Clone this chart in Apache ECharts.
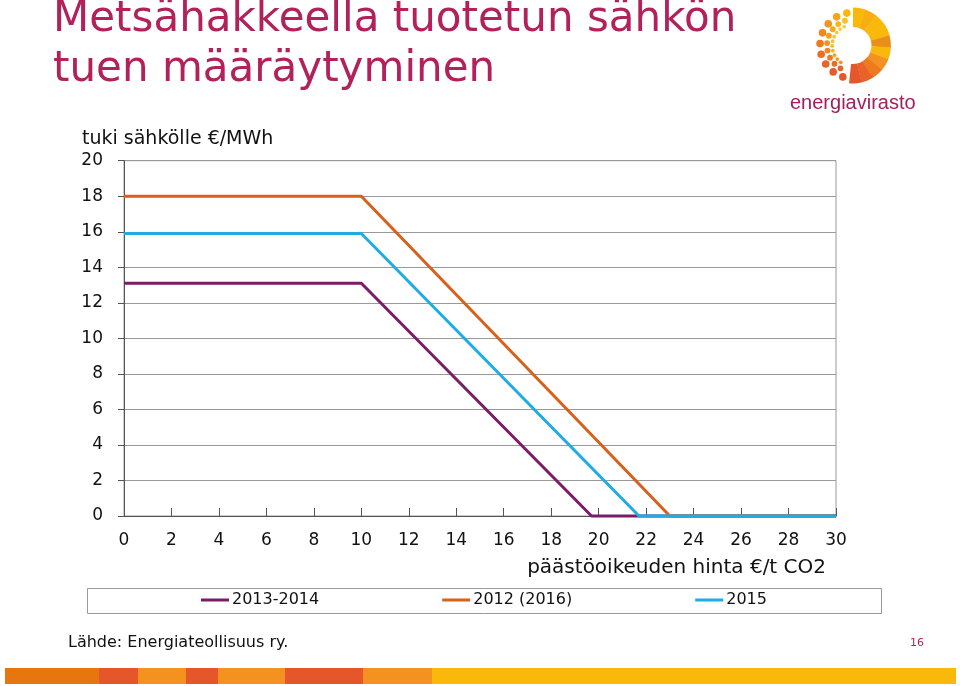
<!DOCTYPE html>
<html>
<head>
<meta charset="utf-8">
<script src="https://cdn.jsdelivr.net/npm/echarts@6/dist/echarts.min.js"></script>
<style>
html,body{margin:0;padding:0;background:#fff;}
#chart{width:960px;height:686px;}
</style>
</head>
<body>
<div id="chart"></div>
<script>
// ---- data ----
const seriesNames = ['2013-2014', '2012 (2016)', '2015'];
const data2013 = [[0, 13.1], [10, 13.1], [19.7, 0], [30, 0]];
const data2012 = [[0, 18], [10, 18], [23, 0], [30, 0]];
const data2015 = [[0, 15.9], [10, 15.9], [21.7, 0], [30, 0]];
const xMin = 0, xMax = 30, xStep = 2;
const yMin = 0, yMax = 20, yStep = 2;
const titleLines = ['Metsähakkeella tuotetun sähkön', 'tuen määräytyminen'];
const yName = 'tuki sähkölle €/MWh';
const xName = 'päästöoikeuden hinta €/t CO2';
const sourceText = 'Lähde: Energiateollisuus ry.';
const pageNo = '16';

// ---- styles ----
const colors = ['#7A1C66', '#D8601B', '#1DADE4'];
const titleColor = '#B3215A';
const F = '"DejaVu Sans", sans-serif';

const chart = echarts.init(document.getElementById('chart'), null, {renderer: 'canvas'});

// decorative bottom stripe
const stripe = [
  [5, 99, '#E8760F'], [99, 138, '#E5562A'], [138, 186, '#F39220'], [186, 218, '#E5562A'],
  [218, 285, '#F39220'], [285, 363, '#E5562A'], [363, 432, '#F39220'], [432, 956, '#F9B80A']
];
const graphics = [];
stripe.forEach(s => graphics.push({type: 'rect', shape: {x: s[0], y: 668, width: s[1] - s[0], height: 16}, style: {fill: s[2]}, silent: true}));

// logo
const cx = 853, cy = 45.5;
const secColors = ['#F9B80A', '#F7AE12', '#F9B80A', '#F9B80A', '#E8901A', '#F9B80A', '#F39220', '#EE7A1E', '#E8622A', '#E5562A'];
const a0 = -Math.PI / 2, a1 = Math.PI * 0.53;
secColors.forEach((c, i) => {
  const st = a0 + (a1 - a0) * i / secColors.length;
  const en = a0 + (a1 - a0) * (i + 1) / secColors.length;
  graphics.push({type: 'sector', shape: {cx, cy, r: 38, r0: 18.5, startAngle: st, endAngle: en + 0.01}, style: {fill: c}, silent: true});
});
const rings = [
  {r: 33, n: 9, size: 3.8, a: 0.60, b: 1.44, cols: [[229, 86, 42], [232, 98, 42], [238, 122, 30], [243, 146, 32], [249, 184, 10]]},
  {r: 26, n: 9, size: 2.9, a: 0.66, b: 1.40, cols: [[232, 98, 42], [238, 122, 30], [243, 146, 32], [247, 170, 20], [249, 190, 40]]},
  {r: 20.8, n: 10, size: 1.9, a: 0.70, b: 1.36, cols: [[243, 146, 32], [247, 170, 20], [249, 190, 40], [250, 200, 60], [250, 205, 80]]}
];
rings.forEach(rg => {
  for (let i = 0; i < rg.n; i++) {
    const t = i / (rg.n - 1);
    const ang = Math.PI * (rg.a + t * (rg.b - rg.a));
    const p = t * (rg.cols.length - 1), k0 = Math.floor(p), k1 = Math.min(k0 + 1, rg.cols.length - 1), f = p - k0;
    const c = rg.cols[k0].map((v, k) => Math.round(v + (rg.cols[k1][k] - v) * f));
    graphics.push({type: 'circle', shape: {cx: cx + rg.r * Math.cos(ang), cy: cy + rg.r * Math.sin(ang), r: rg.size}, style: {fill: 'rgb(' + c.join(',') + ')'}, silent: true});
  }
});
graphics.push({type: 'text', style: {text: 'energiavirasto', x: 790, y: 103, font: '20px "Liberation Sans Narrow", "Liberation Sans", sans-serif', fill: '#A31E5B', textVerticalAlign: 'middle', verticalAlign: 'middle'}, silent: true});

// titles and labels
graphics.push({type: 'text', style: {text: titleLines[0], x: 53, y: 20.5, font: '42px ' + F, fill: titleColor, textVerticalAlign: 'middle', verticalAlign: 'middle'}});
graphics.push({type: 'text', style: {text: titleLines[1], x: 53, y: 70.5, font: '42px ' + F, fill: titleColor, textVerticalAlign: 'middle', verticalAlign: 'middle'}});
graphics.push({type: 'text', style: {text: yName, x: 82, y: 139, font: '19px ' + F, fill: '#111', textVerticalAlign: 'middle', verticalAlign: 'middle'}});
graphics.push({type: 'text', style: {text: xName, x: 826, y: 568, font: '20px ' + F, fill: '#111', textAlign: 'right', align: 'right', textVerticalAlign: 'middle', verticalAlign: 'middle'}});
graphics.push({type: 'rect', shape: {x: 87.5, y: 588.5, width: 794, height: 25}, style: {fill: 'none', stroke: '#999', lineWidth: 1}, silent: true});
graphics.push({type: 'text', style: {text: sourceText, x: 68, y: 643, font: '16px ' + F, fill: '#111', textVerticalAlign: 'middle', verticalAlign: 'middle'}});
graphics.push({type: 'text', style: {text: pageNo, x: 910, y: 643, font: '11px ' + F, fill: titleColor, textVerticalAlign: 'middle', verticalAlign: 'middle'}});

const mk = (name, data, color) => ({
  name, type: 'line', data, showSymbol: false, symbol: 'none', clip: false,
  lineStyle: {color, width: 3}, itemStyle: {color}, animation: false
});

chart.setOption({
  animation: false,
  color: colors,
  grid: {left: 124, right: 124, top: 160.7, bottom: 170, show: true, borderColor: '#999', borderWidth: 1, containLabel: false},
  legend: {
    data: seriesNames, left: 201, top: 592, padding: 0, itemGap: 123,
    itemWidth: 28, itemHeight: 3, icon: 'rect',
    textStyle: {fontFamily: F, fontSize: 16, color: '#111', padding: [0, 0, 0, -2]}
  },
  xAxis: {
    type: 'value', min: xMin, max: xMax, interval: xStep,
    axisLine: {show: true, lineStyle: {color: '#555', width: 1}},
    axisTick: {show: true, inside: true, length: 8, lineStyle: {color: '#555'}},
    axisLabel: {margin: 16, fontFamily: F, fontSize: 17, color: '#111'},
    splitLine: {show: false}
  },
  yAxis: {
    type: 'value', min: yMin, max: yMax, interval: yStep,
    axisLine: {show: true, lineStyle: {color: '#555', width: 1}},
    axisTick: {show: true, inside: false, length: 6, lineStyle: {color: '#555'}},
    axisLabel: {margin: 21, fontFamily: F, fontSize: 17, color: '#111'},
    splitLine: {show: true, lineStyle: {color: '#999', width: 1.2}}
  },
  series: [mk(seriesNames[0], data2013, colors[0]), mk(seriesNames[1], data2012, colors[1]), mk(seriesNames[2], data2015, colors[2])],
  graphic: graphics
});
</script>
</body>
</html>
